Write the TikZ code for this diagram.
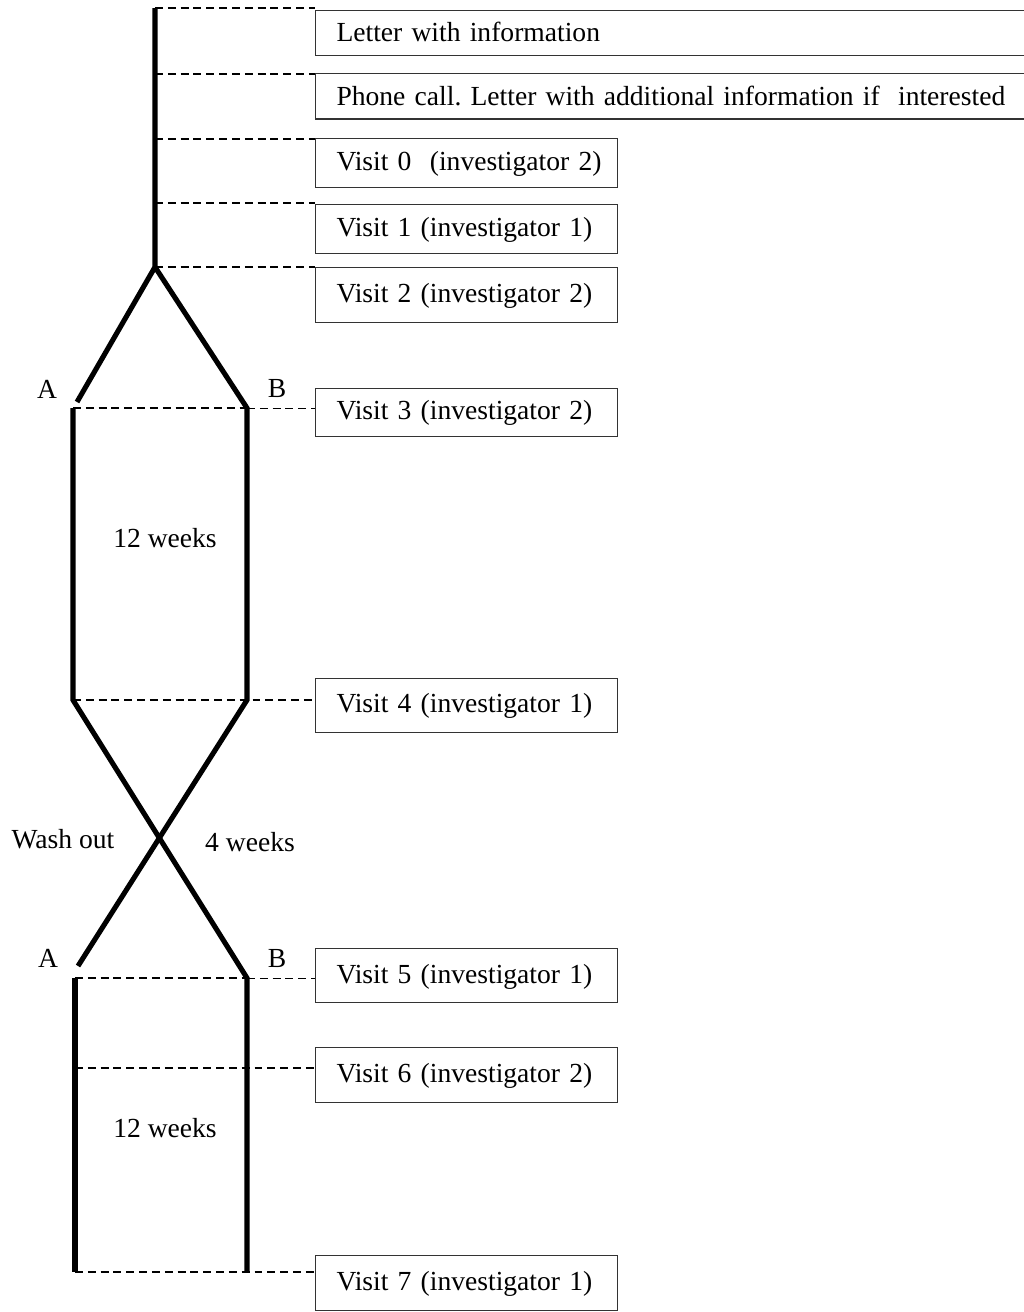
\documentclass[tikz,border=0pt]{standalone}
\usepackage{fontspec}
\setmainfont{Liberation Serif}
\usetikzlibrary{positioning,calc}

\begin{document}
\frenchspacing
\begin{tikzpicture}[x=0.02cm,y=-0.02cm,font=\fontsize{15.7}{19}\selectfont,
 visit/.style={draw=black!80,line width=.6pt,anchor=north west,minimum width=6.04cm,minimum height=1cm,text width=5.2cm,align=left,inner xsep=0.42cm,inner ysep=0pt,text height=.85em,text depth=0pt},
 note/.style={visit,minimum width=14.6cm,text width=13.76cm,minimum height=0.91cm,text height=1em},
 arm/.style={line width=2.9pt},
 link/.style={line width=.95pt,dash pattern=on 4.5pt off 2.8pt},
 faint/.style={line width=.5pt,dash pattern=on 4.5pt off 2.8pt}]
\clip (0,0) rectangle (1024,1312);
\node[note] (letter) at (315,9.5) {Letter with information};
\node[note] (phone) at (315,73) {Phone call. Letter with additional information if \ interested};
\node[visit,minimum height=0.98cm] (v0) at (315,138) {\mbox{Visit 0 \ (investigator 2)}};
\node[visit,minimum height=0.98cm] (v1) at (315,204) {Visit 1 (investigator 1)};
\node[visit,minimum height=1.1cm] (v2) at (315,267) {Visit 2 (investigator 2)};
\node[visit,minimum height=0.96cm] (v3) at (315,388) {Visit 3 (investigator 2)};
\node[visit,minimum height=1.08cm] (v4) at (315,678) {Visit 4 (investigator 1)};
\node[visit,minimum height=1.08cm] (v5) at (315,948) {Visit 5 (investigator 1)};
\node[visit,minimum height=1.1cm] (v6) at (315,1047) {Visit 6 (investigator 2)};
\node[visit,minimum height=1.1cm] (v7) at (315,1255) {Visit 7 (investigator 1)};
\foreach \n/\y in {t0/8,t1/74,t2/139,t3/203,fork/267}{\coordinate (\n) at (155,\y);}
\coordinate (a1) at (77,402);
\coordinate (a1top) at (73,408);
\coordinate (b1) at (247,408);
\coordinate (a1bot) at (73,700);
\coordinate (b1bot) at (247,700);
\coordinate (a2) at (78,966);
\coordinate (a2top) at (75,978);
\coordinate (b2) at (247,978);
\coordinate (m6) at (75,1068);
\coordinate (a2bot) at (75,1272);
\coordinate (b2bot) at (247,1272);
\draw[arm] (t0)--(fork)--(a1);
\draw[arm] (fork)--(b1)--(b1bot)--(a2);
\draw[arm] (a1top)--(a1bot)--(b2)--(b2bot);
\draw[arm] (a2top)--(a2bot);
\foreach \c/\b in {t0/letter,t1/phone,t2/v0,t3/v1,fork/v2,a1bot/v4,m6/v6,a2bot/v7}{\draw[link] (\c)--(\c -| \b.west);}
\draw[link] (a1top)--(b1);
\draw[faint] (b1)--(b1 -| v3.west);
\draw[link] (a2top)--(b2);
\draw[faint] (b2)--(b2 -| v5.west);
\node (A1) at (47,389) {A};
\node (B1) at (277,389) {B};
\node (wk1) at (165,538) {12 weeks};
\node (wash) at (63,839) {Wash out};
\node (wk4) at (250,842) {4 weeks};
\node (A2) at (48,958) {A};
\node (B2) at (277,958) {B};
\node (wk2) at (165,1128) {12 weeks};
\end{tikzpicture}
\end{document}
